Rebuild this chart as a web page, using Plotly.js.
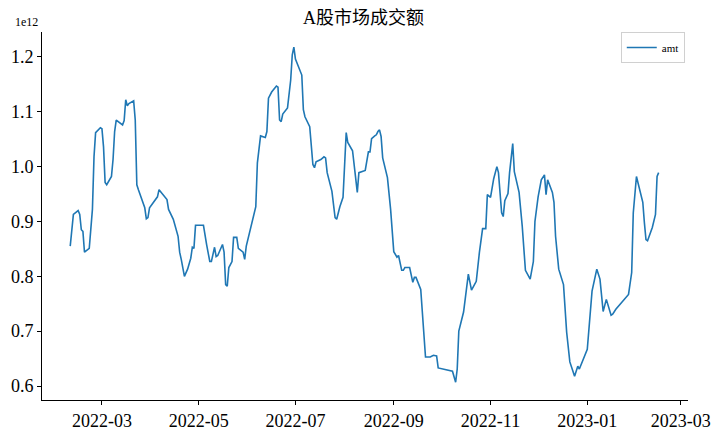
<!DOCTYPE html>
<html>
<head>
<meta charset="utf-8">
<script src="https://cdn.plot.ly/plotly-3.0.1.min.js"></script>
<style>html,body{margin:0;padding:0;background:#fff;}#chart{width:720px;height:432px;}</style>
</head>
<body>
<div id="chart"></div>
<script>
const dates = [
"2022-02-09","2022-02-11","2022-02-14","2022-02-15","2022-02-16","2022-02-17","2022-02-18","2022-02-21","2022-02-23","2022-02-24",
"2022-02-25","2022-02-28","2022-03-01","2022-03-02","2022-03-03","2022-03-04","2022-03-07","2022-03-08","2022-03-09","2022-03-10",
"2022-03-14","2022-03-15","2022-03-16","2022-03-17","2022-03-18","2022-03-21","2022-03-22","2022-03-23","2022-03-24","2022-03-28",
"2022-03-29","2022-03-30","2022-03-31","2022-04-05","2022-04-06","2022-04-08","2022-04-11","2022-04-12","2022-04-14","2022-04-15",
"2022-04-18","2022-04-19","2022-04-20","2022-04-22","2022-04-24","2022-04-26","2022-04-27","2022-04-28","2022-04-29","2022-05-04",
"2022-05-06","2022-05-08","2022-05-09","2022-05-11","2022-05-12","2022-05-13","2022-05-16","2022-05-17","2022-05-18","2022-05-19",
"2022-05-20","2022-05-22","2022-05-23","2022-05-25","2022-05-26","2022-05-29","2022-05-30","2022-05-31","2022-06-06","2022-06-07",
"2022-06-09","2022-06-12","2022-06-13","2022-06-14","2022-06-16","2022-06-19","2022-06-20","2022-06-21","2022-06-22","2022-06-23",
"2022-06-26","2022-06-28","2022-06-29","2022-06-30","2022-07-01","2022-07-04","2022-07-05","2022-07-06","2022-07-07","2022-07-10",
"2022-07-11","2022-07-12","2022-07-13","2022-07-14","2022-07-17","2022-07-19","2022-07-20","2022-07-21","2022-07-24","2022-07-26",
"2022-07-27","2022-07-29","2022-07-31","2022-08-02","2022-08-03","2022-08-06","2022-08-09","2022-08-10","2022-08-14","2022-08-16",
"2022-08-17","2022-08-18","2022-08-20","2022-08-21","2022-08-22","2022-08-23","2022-08-24","2022-08-25","2022-08-28","2022-08-30",
"2022-09-01","2022-09-03","2022-09-04","2022-09-06","2022-09-07","2022-09-08","2022-09-11","2022-09-13","2022-09-14","2022-09-15",
"2022-09-18","2022-09-19","2022-09-21","2022-09-24","2022-09-26","2022-09-28","2022-09-29","2022-10-08","2022-10-10","2022-10-11",
"2022-10-12","2022-10-15","2022-10-17","2022-10-18","2022-10-20","2022-10-23","2022-10-25","2022-10-27","2022-10-29","2022-10-30",
"2022-11-01","2022-11-03","2022-11-05","2022-11-06","2022-11-08","2022-11-09","2022-11-10","2022-11-12","2022-11-13","2022-11-15",
"2022-11-16","2022-11-19","2022-11-21","2022-11-23","2022-11-26","2022-11-28","2022-11-29","2022-12-01","2022-12-03","2022-12-05",
"2022-12-06","2022-12-07","2022-12-10","2022-12-11","2022-12-12","2022-12-14","2022-12-17","2022-12-19","2022-12-21","2022-12-24",
"2022-12-26","2022-12-27","2023-01-01","2023-01-02","2023-01-04","2023-01-07","2023-01-09","2023-01-11","2023-01-13","2023-01-16",
"2023-01-17","2023-01-19","2023-01-27","2023-01-29","2023-01-30","2023-02-01","2023-02-05","2023-02-06","2023-02-07","2023-02-08",
"2023-02-11","2023-02-13","2023-02-14","2023-02-15"
];
// amt, in units of 1e12
const amt = [
0.855,0.913,0.920,0.913,0.885,0.882,0.844,0.851,0.922,1.018,
1.062,1.071,1.069,1.036,0.971,0.967,0.982,1.013,1.064,1.085,
1.076,1.084,1.122,1.111,1.115,1.120,1.085,0.967,0.958,0.925,
0.905,0.907,0.925,0.945,0.958,0.951,0.940,0.922,0.911,0.904,
0.873,0.844,0.831,0.800,0.813,0.833,0.853,0.851,0.893,0.893,
0.858,0.827,0.827,0.853,0.836,0.838,0.858,0.844,0.785,0.782,
0.816,0.827,0.871,0.871,0.851,0.844,0.831,0.855,0.927,1.007,
1.056,1.053,1.064,1.125,1.136,1.147,1.145,1.085,1.082,1.096,
1.107,1.158,1.204,1.218,1.196,1.176,1.167,1.104,1.091,1.073,
1.031,1.004,0.998,1.009,1.013,1.018,1.016,0.989,0.955,0.907,
0.904,0.927,0.944,1.062,1.044,1.029,0.953,0.989,0.993,1.027,
1.027,1.051,1.056,1.058,1.064,1.067,1.055,1.016,0.980,0.922,
0.845,0.835,0.838,0.811,0.811,0.816,0.816,0.789,0.798,0.798,
0.776,0.735,0.653,0.653,0.656,0.655,0.633,0.627,0.607,0.631,
0.700,0.735,0.780,0.804,0.775,0.791,0.844,0.887,0.887,0.949,
0.944,0.978,1.000,0.989,0.916,0.909,0.938,0.951,0.989,1.042,
0.991,0.953,0.891,0.811,0.795,0.827,0.900,0.945,0.976,0.985,
0.949,0.976,0.953,0.935,0.873,0.813,0.785,0.698,0.644,0.618,
0.636,0.631,0.667,0.698,0.773,0.813,0.795,0.736,0.758,0.729,
0.731,0.740,0.767,0.807,0.916,0.982,0.935,0.898,0.867,0.865,
0.889,0.913,0.982,0.989
];
const xTickVals = ["2022-03-01","2022-05-01","2022-07-01","2022-09-01","2022-11-01","2023-01-01","2023-03-01"];
const xTickText = ["2022-03","2022-05","2022-07","2022-09","2022-11","2023-01","2023-03"];
const yTickVals = [0.6,0.7,0.8,0.9,1.0,1.1,1.2];
const yTickText = ["0.6","0.7","0.8","0.9","1.0","1.1","1.2"];

const serif = "Liberation Serif";
const trace = {
  x: dates, y: amt, type: "scatter", mode: "lines", name: "amt",
  line: {color: "#1f77b4", width: 1.6}
};
const layout = {
  width: 720, height: 432,
  margin: {l: 42, r: 32, t: 32, b: 32},
  paper_bgcolor: "#fff", plot_bgcolor: "#fff",
  font: {family: serif, color: "#000", size: 16},
  title: {text: "A股市场成交额", x: 0.505, xanchor: "center", y: 0.958, yanchor: "middle",
          font: {family: "Liberation Serif, Noto Sans CJK SC", size: 18, color: "#000"}},
  xaxis: {
    type: "date",
    range: ["2022-01-22 05:00", "2023-03-05 12:00"],
    tickvals: xTickVals, ticktext: xTickText,
    showgrid: false, zeroline: false,
    showline: true, linecolor: "#000", linewidth: 1,
    ticks: "outside", ticklen: 4, tickcolor: "#000", tickwidth: 1,
    tickfont: {size: 18, family: serif}
  },
  yaxis: {
    range: [0.5745, 1.2455],
    tickvals: yTickVals, ticktext: yTickText,
    showgrid: false, zeroline: false,
    showline: true, linecolor: "#000", linewidth: 1,
    ticks: "outside", ticklen: 4, tickcolor: "#000", tickwidth: 1,
    tickfont: {size: 18, family: serif}
  },
  showlegend: true,
  legend: {
    x: 0.995, xanchor: "right", y: 1.0, yanchor: "top",
    bgcolor: "rgba(255,255,255,0.9)", bordercolor: "#d0d0d0", borderwidth: 1,
    font: {size: 11, family: serif}, itemwidth: 30, tracegroupgap: 0
  },
  annotations: [{
    text: "1e12", xref: "paper", yref: "paper", x: 0, y: 1,
    xanchor: "left", yanchor: "bottom", xshift: -29, yshift: 1,
    showarrow: false, font: {size: 12, family: serif, color: "#000"}
  }]
};
Plotly.newPlot("chart", [trace], layout, {displayModeBar: false, staticPlot: true});
</script>
</body>
</html>
